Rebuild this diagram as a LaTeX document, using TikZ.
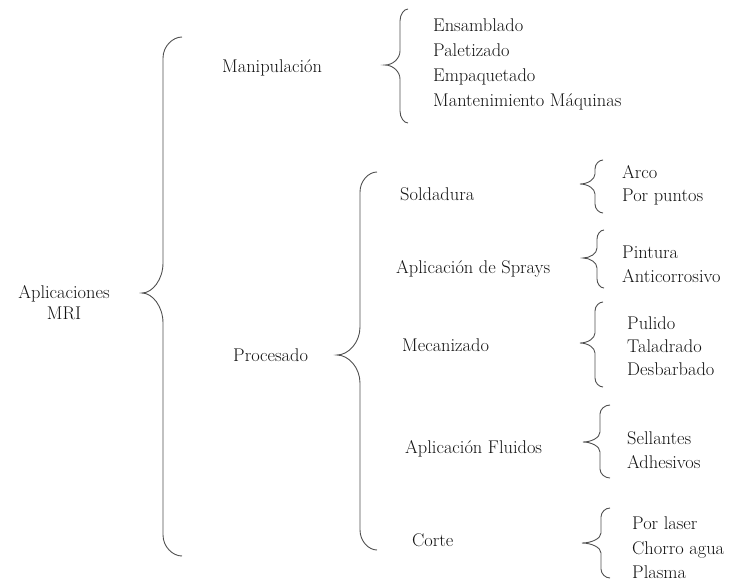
\documentclass[tikz,border=0pt]{standalone}
\usepackage{fontspec}
\definecolor{txtcol}{HTML}{111111}
\definecolor{bracecol}{HTML}{505050}
% #1 xe, #2 xv, #3 xt, #4 ytop, #5 ymid, #6 ybottom, #7 corner height, #8 tip height
\newcommand\mybrace[8]{%
  \pgfmathsetmacro\bh{#1-#2}%
  \pgfmathsetmacro\bt{#2-#3}%
  \draw[bracestyle] (#1,#4) .. controls ({#2+0.5*\bh},#4) and (#2,{#4+0.45*#7}) .. (#2,{#4+#7})
    -- (#2,{#5-#8}) .. controls (#2,{#5-0.45*#8}) and ({#3+0.5*\bt},#5) .. (#3,#5)
    .. controls ({#3+0.5*\bt},#5) and (#2,{#5+0.45*#8}) .. (#2,{#5+#8})
    -- (#2,{#6-#7}) .. controls (#2,{#6-0.45*#7}) and ({#2+0.5*\bh},#6) .. (#1,#6);}
\begin{document}
\begin{tikzpicture}[x=1pt,y=-1pt,
  every node/.style={font=\rmfamily\fontsize{18.4}{21}\selectfont, text=txtcol, inner sep=0pt},
  lbl/.style={anchor=base west, yshift=-6pt},
  lblc/.style={anchor=base, yshift=-6pt},
  bracestyle/.style={draw=bracecol, line width=0.9pt}]
\useasboundingbox (0,0) rectangle (734,582);

% root
\node[lblc] (apl) at (64,292) {Aplicaciones};
\node[lblc] (mri) at (64,313) {MRI};
\mybrace{182}{163}{142}{37}{293}{556}{21}{30}

% Manipulacion
\node[lbl] (man) at (222,66) {Manipulación};
\mybrace{408}{400}{385}{9}{65}{123}{12}{14}
\node[lbl] (ens) at (433,25) {Ensamblado};
\node[lbl] (pal) at (433,50) {Paletizado};
\node[lbl] (emp) at (433,75) {Empaquetado};
\node[lbl] (mant) at (433,100) {Mantenimiento Máquinas};

% Procesado
\node[lbl] (pro) at (233,355) {Procesado};
\mybrace{377}{360}{337}{172}{355}{550}{20}{28}

\node[lbl] (sol) at (400,194) {Soldadura};
\mybrace{603}{595}{580}{160}{184}{213}{9}{10}
\node[lbl] (arco) at (622,172) {Arco};
\node[lbl] (ppu) at (622,195) {Por puntos};

\node[lbl] (spr) at (396,267) {Aplicación de Sprays};
\mybrace{604}{597}{583}{230}{258}{288}{9}{10}
\node[lbl] (pin) at (622,252) {Pintura};
\node[lbl] (anti) at (622,276) {Anticorrosivo};

\node[lbl] (mec) at (402,345) {Mecanizado};
\mybrace{603}{595}{580}{302}{343}{387}{9}{10}
\node[lbl] (pul) at (627,323) {Pulido};
\node[lbl] (tal) at (627,346) {Taladrado};
\node[lbl] (des) at (627,369) {Desbarbado};

\node[lbl] (flu) at (405,447) {Aplicación Fluidos};
\mybrace{610}{600}{583}{405}{442}{478}{9}{10}
\node[lbl] (sel) at (627,438) {Sellantes};
\node[lbl] (adh) at (627,462) {Adhesivos};

\node[lbl] (cor) at (412,540) {Corte};
\mybrace{610}{601}{582}{508}{543}{578}{9}{10}
\node[lbl] (las) at (632,523) {Por laser};
\node[lbl] (cho) at (632,548) {Chorro agua};
\node[lbl] (pla) at (632,572) {Plasma};
\end{tikzpicture}
\end{document}
